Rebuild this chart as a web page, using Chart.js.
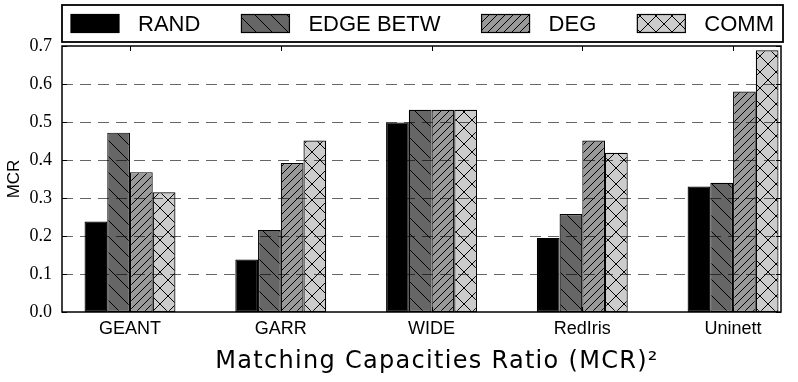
<!DOCTYPE html>
<html>
<head>
<meta charset="utf-8">
<script src="https://cdn.jsdelivr.net/npm/chart.js@4.4.1/dist/chart.umd.min.js"></script>
<style>
  html, body { margin: 0; padding: 0; background: #fff; }
  #wrap { width: 798px; height: 382px; }
</style>
</head>
<body>
<div id="wrap"><canvas id="mcrChart" width="798" height="382"></canvas></div>
<script>
// data
const categories = ['GEANT', 'GARR', 'WIDE', 'RedIris', 'Uninett'];
const seriesNames = ['RAND', 'EDGE BETW', 'DEG', 'COMM'];
const randValues = [0.238, 0.138, 0.499, 0.195, 0.330];
const edgeBetwValues = [0.472, 0.216, 0.532, 0.258, 0.340];
const degValues = [0.368, 0.392, 0.532, 0.451, 0.580];
const commValues = [0.315, 0.451, 0.532, 0.419, 0.689];
const yTicks = [0.0, 0.1, 0.2, 0.3, 0.4, 0.5, 0.6, 0.7];
const xTitle = 'Matching Capacities Ratio (MCR)²';

function makeHatch(bg, kind, size) {
    const c = document.createElement('canvas');
    c.width = size;
    c.height = size;
    const g = c.getContext('2d');
    g.fillStyle = bg;
    g.fillRect(0, 0, size, size);
    g.strokeStyle = '#000';
    g.lineWidth = 1;
    g.beginPath();
    if (kind === 'back' || kind === 'cross') {
        for (let o = -size; o <= size; o += size) {
            g.moveTo(o, 0);
            g.lineTo(o + size, size);
        }
    }
    if (kind === 'fwd' || kind === 'cross') {
        for (let o = -size; o <= size; o += size) {
            g.moveTo(o, size);
            g.lineTo(o + size, 0);
        }
    }
    g.stroke();
    return g.createPattern(c, 'repeat');
}

const fills = [
    '#000000',
    makeHatch('#666666', 'back', 16),
    makeHatch('#999999', 'fwd', 8),
    makeHatch('#cccccc', 'cross', 16),
];
const allValues = [randValues, edgeBetwValues, degValues, commValues];

const datasets = seriesNames.map((name, k) => ({
    label: name,
    data: allValues[k].map((v, i) => ({ x: i, y: v })),
    backgroundColor: fills[k],
    borderColor: '#000',
    borderWidth: 1.2,
    borderSkipped: false,
    categoryPercentage: 0.603,
    barPercentage: 1.0,
}));

// frame, dashed grid over the bars, inward ticks, boxed legend, x title
const decor = {
    id: 'decor',
    afterDatasetsDraw(chart) {
        const { ctx, chartArea: a, scales } = chart;
        ctx.save();
        ctx.strokeStyle = 'rgba(0,0,0,0.6)';
        ctx.lineWidth = 1.2;
        ctx.setLineDash([11, 7]);
        yTicks.slice(1, -1).forEach(t => {
            const y = Math.round(scales.y.getPixelForValue(t)) + 0.5;
            ctx.beginPath();
            ctx.moveTo(a.left, y);
            ctx.lineTo(a.right, y);
            ctx.stroke();
        });
        ctx.setLineDash([]);
        ctx.strokeStyle = '#000';
        ctx.lineWidth = 1;
        ctx.beginPath();
        yTicks.forEach(t => {
            const y = Math.round(scales.y.getPixelForValue(t)) + 0.5;
            ctx.moveTo(a.left, y); ctx.lineTo(a.left + 5, y);
            ctx.moveTo(a.right, y); ctx.lineTo(a.right - 5, y);
        });
        categories.forEach((c, i) => {
            const x = Math.round(scales.x.getPixelForValue(i)) + 0.5;
            ctx.moveTo(x, a.top); ctx.lineTo(x, a.top + 5);
            ctx.moveTo(x, a.bottom); ctx.lineTo(x, a.bottom - 5);
        });
        ctx.stroke();
        ctx.lineWidth = 1.5;
        ctx.strokeRect(a.left, a.top, a.right - a.left, a.bottom - a.top);
        ctx.restore();
    },
    afterDraw(chart) {
        const { ctx, chartArea: a } = chart;
        const box = { left: a.left, top: 5, right: 783, bottom: 42 };
        ctx.save();
        ctx.strokeStyle = '#000';
        ctx.lineWidth = 1.8;
        ctx.strokeRect(box.left, box.top, box.right - box.left, box.bottom - box.top);
        ctx.font = '22px "Liberation Sans", Arial, sans-serif';
        ctx.textBaseline = 'middle';
        const sw = 48, sh = 18, gapText = 19, margin = 9;
        const widths = seriesNames.map(n => sw + gapText + ctx.measureText(n).width);
        const used = widths.reduce((s, w) => s + w, 0);
        const gap = (box.right - box.left - 2 * margin - used) / (seriesNames.length - 1);
        let x = box.left + margin;
        const cy = (box.top + box.bottom) / 2;
        seriesNames.forEach((n, k) => {
            ctx.fillStyle = fills[k];
            ctx.fillRect(x, cy - sh / 2, sw, sh);
            ctx.lineWidth = 1.2;
            ctx.strokeRect(x, cy - sh / 2, sw, sh);
            ctx.fillStyle = '#000';
            ctx.fillText(n, x + sw + gapText, cy + 1);
            x += widths[k] + gap;
        });

        // x axis title, wide sans like the original
        ctx.font = '24px "DejaVu Sans", sans-serif';
        ctx.letterSpacing = '1.3px';
        ctx.textAlign = 'center';
        ctx.textBaseline = 'alphabetic';
        ctx.fillText(xTitle, 437, 368);
        ctx.restore();
    },
};

const ctx = document.getElementById('mcrChart').getContext('2d');
new Chart(ctx, {
    type: 'bar',
    data: { datasets: datasets },
    options: {
        responsive: false,
        animation: false,
        layout: { padding: { top: 46, right: 17, left: 0, bottom: 0 } },
        plugins: {
            legend: { display: false },
            tooltip: { enabled: false },
        },
        scales: {
            x: {
                type: 'linear',
                offset: false,
                min: -0.451,
                max: 4.318,
                grid: { display: false, offset: false },
                border: { display: false },
                afterBuildTicks: s => { s.ticks = categories.map((c, i) => ({ value: i })); },
                afterFit: s => { s.height = 70; },
                ticks: {
                    autoSkip: false,
                    maxRotation: 0,
                    padding: -2,
                    color: '#000',
                    font: { family: '"Liberation Sans", Arial, sans-serif', size: 18 },
                    callback: v => categories[v],
                },
            },
            y: {
                min: 0,
                max: 0.7,
                grid: { display: false },
                border: { display: false },
                afterBuildTicks: s => { s.ticks = yTicks.map(v => ({ value: v })); },
                afterFit: s => { s.width = 62; },
                ticks: {
                    padding: 2,
                    color: '#000',
                    font: { family: '"Liberation Serif", "Times New Roman", serif', size: 18 },
                    callback: v => v.toFixed(1),
                },
                title: {
                    display: true,
                    text: 'MCR',
                    color: '#000',
                    font: { family: '"Liberation Sans", Arial, sans-serif', size: 17 },
                    padding: { top: 4, bottom: 0 },
                },
            },
        },
    },
    plugins: [decor],
});
</script>
</body>
</html>
